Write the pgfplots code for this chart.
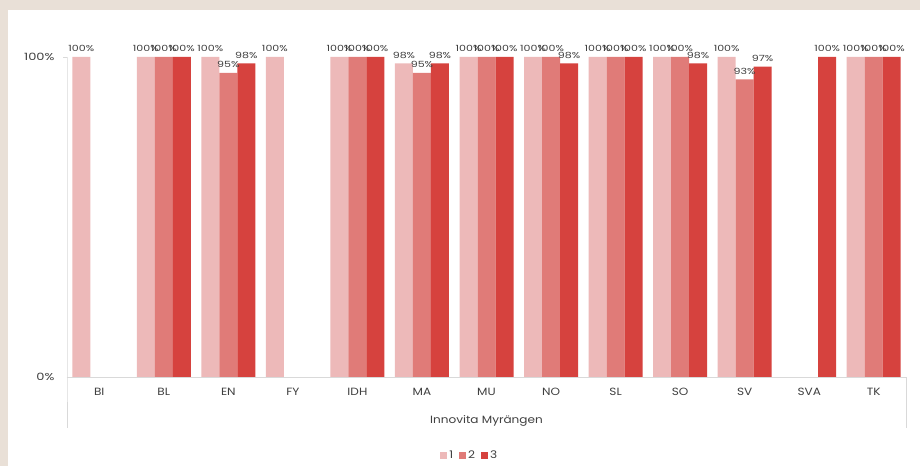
\documentclass[border=0pt]{standalone}
\usepackage{pgfplots}
\pgfplotsset{compat=1.18}
\usepackage{fontspec}
\setmainfont{Poppins}[FakeStretch=1.15]
\newfontfamily\numfont{Poppins}[FakeStretch=1.3]
\definecolor{cA}{HTML}{EDB9B9}
\definecolor{cB}{HTML}{E07B78}
\definecolor{cC}{HTML}{D6423E}
\definecolor{bgb}{HTML}{E9E0D7}
\definecolor{txt}{HTML}{404040}
\definecolor{axl}{HTML}{D9D9D9}
\begin{document}
\begin{tikzpicture}[x=1pt,y=1pt]
\fill[bgb] (-67,-89) rectangle (853,377);
\fill[white] (-59,-89) rectangle (853,367);
\begin{axis}[
  at={(0,0)}, anchor=south west,
  scale only axis, width=839pt, height=320pt,
  ymin=0, ymax=100, xmin=-0.5, xmax=12.5,
  ybar=0pt, bar width=18pt,
  axis line style={draw=none},
  ytick={0,100}, yticklabels={0\%,100\%},
  yticklabel style={text=txt, font=\numfont\fontsize{10}{11}\selectfont, xshift=-9pt},
  xtick={0,...,12},
  xticklabels={BI,BL,EN,FY,IDH,MA,MU,NO,SL,SO,SV,SVA,TK},
  xticklabel style={text=txt, font=\fontsize{10.5}{12}\selectfont, yshift=-8pt},
  major tick length=0pt,
  clip=false,
  /pgf/number format/assume math mode=true,
  nodes near coords={\pgfmathprintnumber{\pgfplotspointmeta}\%},
  nodes near coords style={text=txt, font=\numfont\fontsize{8.5}{9}\selectfont, inner sep=3pt, yshift=2pt},
  legend style={at={(0.48,-0.245)}, anchor=center, draw=none, legend columns=-1,
    font=\fontsize{10.5}{11}\selectfont, text=txt,
    /tikz/every even column/.append style={column sep=4pt}},
  legend image code/.code={\fill[#1] (0pt,-3.5pt) rectangle (7pt,3.5pt);},
]
\addplot[fill=cA, draw=none] coordinates {(0,100) (1,100) (2,100) (3,100) (4,100) (5,98) (6,100) (7,100) (8,100) (9,100) (10,100) (12,100)};
\addplot[fill=cB, draw=none] coordinates {(1,100) (2,95) (4,100) (5,95) (6,100) (7,100) (8,100) (9,100) (10,93) (12,100)};
\addplot[fill=cC, draw=none] coordinates {(1,100) (2,98) (4,100) (5,98) (6,100) (7,98) (8,100) (9,98) (10,97) (11,100) (12,100)};
\legend{1,2,3}
\draw[axl] (rel axis cs:0,1) -- (rel axis cs:0,0) -- ([yshift=-51pt]rel axis cs:0,0);
\draw[axl] (rel axis cs:0,0) -- (rel axis cs:1,0) -- ([yshift=-51pt]rel axis cs:1,0);
\draw[axl] (rel axis cs:0,1) -- ([xshift=-4pt]rel axis cs:0,1);
\node[text=txt, font=\fontsize{10.5}{12}\selectfont] at ([yshift=-44pt]rel axis cs:0.5,0) {Innovita Myrängen};
\end{axis}
\end{tikzpicture}
\end{document}
